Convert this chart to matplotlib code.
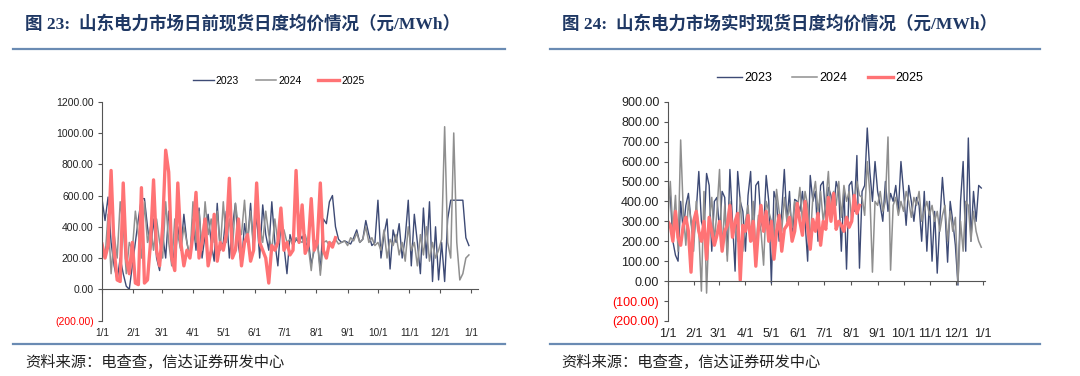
import numpy as np
import matplotlib
matplotlib.use("Agg")
import matplotlib.pyplot as plt
from matplotlib.lines import Line2D

plt.rcParams['font.family'] = ['Liberation Sans', 'Noto Sans CJK SC', 'DejaVu Sans']
plt.rcParams['axes.spines.top'] = False
plt.rcParams['axes.spines.right'] = False

STEP = 3  # one reading every 3 days

month_days = [0, 31, 59, 90, 120, 151, 181, 212, 243, 273, 304, 334, 365]
month_labels = ['1/1', '2/1', '3/1', '4/1', '5/1', '6/1', '7/1',
                '8/1', '9/1', '10/1', '11/1', '12/1', '1/1']
years = ['2023', '2024', '2025']

# 日前 (day-ahead) daily average price
da_2023 = [580, 440, 590, 300, 150, 60, 200, 100, 20, 0, 150,
           300, 450, 580, 580, 400, 250, 450, 200, 120,
           350, 200, 500, 300, 150, 400, 250, 480, 300, 200,
           450, 250, 520, 200, 350, 480, 300, 180, 550, 250,
           300, 500, 200, 400, 550, 280, 150, 420, 300, 550, 250,
           480, 200, 540, 350, 250, 560, 300, 150, 420, 280,
           100, 350, 280, 320, 300, 340, 260, 320, 160, 250,
           320, 120, 450, 420, 560, 600, 400, 320, 300, 310,
           300, 290, 330, 380, 300, 320, 440, 350, 280, 300,
           570, 200, 350, 450, 130, 380, 300, 420, 200, 330,
           570, 150, 480, 300, 100, 520, 200, 560, 50, 400,
           60, 300, 50, 450, 570, 570, 570, 570, 570, 330, 280]
da_2024 = [300, 200, 480, 100, 350, 200, 560, 400, 100, 300, 250,
           500, 350, 200, 560, 300, 400, 250, 450, 300,
           200, 560, 300, 150, 450, 350, 250, 400, 300, 200,
           560, 300, 500, 250, 560, 350, 450, 300, 500, 250,
           560, 300, 450, 250, 550, 400, 350, 570, 300, 500, 250,
           560, 400, 300, 500, 350, 250, 450, 300, 400, 380,
           300, 320, 280, 330, 310, 300, 350, 280, 120, 300,
           320, 90, 300, 310, 280, 300, 320, 290, 300, 310,
           280, 330, 310, 360, 300, 320, 400, 300, 330, 280,
           300, 250, 380, 200, 320, 280, 350, 220, 300, 180,
           400, 250, 300, 150, 350, 220, 400, 180, 300, 200,
           250, 320, 1040, 300, 200, 1000, 300, 60, 100, 200, 220]
da_2025 = [290, 200, 280, 760, 250, 60, 50, 680, 200, 100, 300, 40, 30,
           650, 40, 60, 300, 700, 250, 150, 400, 890, 750, 200, 120, 680,
           300, 150, 250, 200, 350, 620, 200, 300, 450, 150, 250, 480, 180,
           300, 250, 350, 710, 200, 250, 450, 150, 300, 350, 180, 250, 680,
           300, 250, 200, 40, 280, 250, 300, 520, 250, 300, 220, 250, 760,
           300, 540, 230, 280, 580, 250, 300, 680, 250, 200, 300, 270, 330]

# 实时 (real-time) daily average price
rt_2023 = [450, 430, 200, 130, 100, 400, 250, 380, 440, 300, 200,
           350, 550, 300, 250, 540, 480, 150, 400, 420,
           250, 450, 420, 130, 560, 300, 50, 550, 400, 350,
           150, 430, 550, 200, 480, 500, 300, 250, 530, 400,
           -10, 450, 400, 200, 350, 560, 300, 450, 200, 410, 400,
           350, 450, 300, 100, 530, 400, 450, 200, 480, 500,
           300, 470, 430, 350, 500, 450, 150, 470, 60, 480,
           500, 350, 630, 65, 450, 480, 768, 550, 400, 600,
           450, 380, 300, 500, 350, 440, 400, 480, 350, 600,
           450, 280, 480, 400, 300, 420, 380, 200, 450, 150,
           400, 100, 350, 40, 300, 520, 350, 95, 400, 300,
           180, -20, 400, 600, 150, 718, 200, 450, 300, 480, 467]
rt_2024 = [300, 500, 250, 430, 150, 708, 350, 180, 400, 300, 150,
           400, 250, -50, 450, -60, 300, 420, 200, 350,
           560, 150, 380, 100, 400, 250, 300, 200, 420, 150,
           300, 380, 200, 400, 150, 330, 250, 80, 400, 350,
           300, 200, 460, 350, 250, 420, 300, 380, 270, 400, 350,
           470, 300, 450, 380, 200, 420, 500, 350, 450, 300,
           400, 550, 300, 450, 380, 500, 320, 480, 400, 450,
           300, 380, 500, 430, 420, 330, 600, 440, 45, 400,
           380, 450, 350, 400, 723, 55, 380, 420, 330, 400,
           350, 450, 400, 320, 420, 380, 450, 300, 350, 400,
           330, 380, 300, 350, 250, 330, 380, 200, 350, 250,
           320, -10, 300, 150, 400, 380, 200, 350, 250, 200, 170]
rt_2025 = [300, 280, 200, 350, 220, 180, 280, 320, 250, 45, 300, 350, 250,
           200, 300, 110, 320, 250, 180, 230, 300, 150, 250, 280, 380, 220,
           300, 340, 5, 280, 250, 330, 200, 300, 75, 260, 380, 250, 350, 200,
           300, 110, 250, 330, 150, 260, 280, 320, 200, 250, 390, 300, 230,
           400, 270, 160, 310, 250, 340, 180, 300, 260, 420, 300, 440, 260,
           300, 280, 250, 320, 270, 300, 430, 340, 380]

colors = ['#3d4a75', '#8f8f8f', '#ff7375']
widths = [1.0, 1.1, 2.4]

TITLE_C = '#1f3864'
RULE_C = '#6a8bb3'


def fmt(v):
    if v < 0:
        return f"({abs(v):.2f})"
    return f"{v:.2f}"


def draw_panel(ax, series, ylim, yticks, xmax, fs, xfs, leg_anchor):
    for vals, c, lw, lab in zip(series, colors, widths, years):
        days = np.arange(len(vals)) * STEP
        ax.plot(days, vals, color=c, lw=lw, label=lab, solid_joinstyle='round')
    ax.set_xlim(0, xmax)
    ax.set_ylim(*ylim)
    ax.set_yticks(yticks)
    ax.set_yticklabels([fmt(v) for v in yticks])
    ax.tick_params(axis='y', labelsize=fs, length=3, width=0.8, colors='#555555', pad=3)
    for t, v in zip(ax.get_yticklabels(), yticks):
        t.set_color('#ff0000' if v < 0 else '#222222')
    ax.spines['left'].set_color('#555555')
    ax.spines['bottom'].set_color('#555555')
    ax.spines['bottom'].set_position(('data', 0))
    ax.set_xticks(month_days)
    ax.tick_params(axis='x', labelbottom=False, length=3, width=0.8, colors='#555555')
    sec = ax.secondary_xaxis(0)
    sec.set_xticks(month_days, labels=month_labels)
    sec.spines['bottom'].set_visible(False)
    sec.tick_params(length=0, labelsize=xfs, pad=5, labelcolor='#222222')
    ax.legend(loc='center', bbox_to_anchor=leg_anchor, ncol=3, frameon=False,
              fontsize=fs, handlelength=2.0, columnspacing=1.6, handletextpad=0.2)


fig = plt.figure(figsize=(10.8, 3.76), dpi=100)
W, H = 1080, 376

ax1 = fig.add_axes([102 / W, 1 - 320.6 / H, (478 - 102) / W, (320.6 - 101.7) / H])
draw_panel(ax1, [da_2023, da_2024, da_2025], (-200, 1200),
           [-200, 0, 200, 400, 600, 800, 1000, 1200], 372, 7.5, 7.2, (0.47, 1.095))

ax2 = fig.add_axes([667.7 / W, 1 - 321 / H, (985 - 667.7) / W, (321 - 101.7) / H])
draw_panel(ax2, [rt_2023, rt_2024, rt_2025], (-200, 900),
           [-200, -100, 0, 100, 200, 300, 400, 500, 600, 700, 800, 900], 367.3, 9, 9,
           (0.48, 1.108))

title_font = ['Liberation Serif', 'Noto Sans CJK SC']
fig.text(25 / W, 1 - 24 / H, '图 23:  山东电力市场日前现货日度均价情况（元/MWh）',
         fontsize=12.6, fontweight='bold', color=TITLE_C, family=title_font, va='center')
fig.text(562 / W, 1 - 24 / H, '图 24:  山东电力市场实时现货日度均价情况（元/MWh）',
         fontsize=12.6, fontweight='bold', color=TITLE_C, family=title_font, va='center')

for x0, x1 in [(13, 505), (550, 1040)]:
    for y in (48.5, 344):
        fig.add_artist(Line2D([x0 / W, x1 / W], [1 - y / H] * 2, transform=fig.transFigure,
                              color=RULE_C, lw=1.6))

src_font = ['Noto Sans CJK SC']
fig.text(25 / W, 1 - 362 / H, '资料来源：电查查，信达证券研发中心', fontsize=11,
         style='italic', color='#222222', family=src_font, va='center')
fig.text(561 / W, 1 - 362 / H, '资料来源：电查查，信达证券研发中心', fontsize=11,
         style='italic', color='#222222', family=src_font, va='center')

fig.savefig('out.png', dpi=100)
